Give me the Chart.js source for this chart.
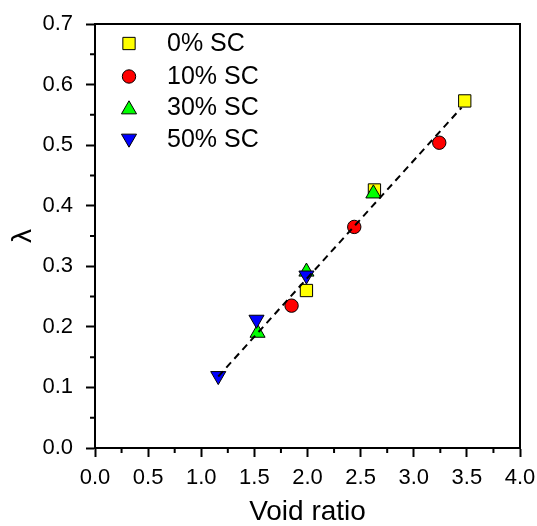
<!DOCTYPE html>
<html>
<head>
<meta charset="utf-8">
<script src="https://cdn.jsdelivr.net/npm/chart.js@4"></script>
<style>
    html, body { margin: 0; padding: 0; background: #fff; }
    #wrap { width: 537px; height: 526px; }
</style>
</head>
<body>
<div id="wrap"><canvas id="lambdaChart" width="537" height="526"></canvas></div>
<script>
// lambda vs void ratio for the four SC contents
const seriesLabels = ['0% SC', '10% SC', '30% SC', '50% SC'];

const sc0Void = [1.99, 2.63, 3.48];
const sc0Lambda = [0.26, 0.426, 0.573];

const sc10Void = [1.85, 2.44, 3.24];
const sc10Lambda = [0.235, 0.365, 0.504];

const sc30Void = [1.53, 1.99, 2.62];
const sc30Lambda = [0.19, 0.291, 0.42];

const sc50Void = [1.16, 1.52, 1.99];
const sc50Lambda = [0.119, 0.212, 0.285];

// linear fit through all points
const fitVoid = [1.16, 3.45];
const fitLambda = [0.118, 0.562];

const xTicks = [0, 0.5, 1, 1.5, 2, 2.5, 3, 3.5, 4];
const yTicks = [0, 0.1, 0.2, 0.3, 0.4, 0.5, 0.6, 0.7];

const FONT = '"Liberation Sans", Arial, Helvetica, sans-serif';

const markers = [
    { color: '#ffff00', style: 'rect', radius: 8.7, rotation: 0 },
    { color: '#ff0000', style: 'circle', radius: 6.7, rotation: 0 },
    { color: '#00ff00', style: 'triangle', radius: 8.7, rotation: 0 },
    { color: '#0000ff', style: 'triangle', radius: 8.7, rotation: 180 }
];

function toPoints(xs, ys) {
    return xs.map((x, i) => ({ x: x, y: ys[i] }));
}

function scatterSet(idx, xs, ys, order) {
    const m = markers[idx];
    return {
        label: seriesLabels[idx],
        data: toPoints(xs, ys),
        showLine: false,
        backgroundColor: m.color,
        borderColor: '#000',
        borderWidth: 1,
        pointStyle: m.style,
        pointRadius: m.radius,
        pointRotation: m.rotation,
        order: order
    };
}

// full frame plus minor ticks
const framePlugin = {
    id: 'frame',
    afterDraw(chart) {
        const { ctx, chartArea: a, scales } = chart;
        ctx.save();
        ctx.strokeStyle = '#000';
        ctx.lineWidth = 2;
        ctx.strokeRect(a.left, a.top, a.right - a.left, a.bottom - a.top);

        ctx.beginPath();
        for (let i = 0; i < xTicks.length - 1; i++) {
            const px = scales.x.getPixelForValue((xTicks[i] + xTicks[i + 1]) / 2);
            ctx.moveTo(px, a.bottom);
            ctx.lineTo(px, a.bottom + 5);
        }
        for (let i = 0; i < yTicks.length - 1; i++) {
            const py = scales.y.getPixelForValue((yTicks[i] + yTicks[i + 1]) / 2);
            ctx.moveTo(a.left, py);
            ctx.lineTo(a.left - 5, py);
        }
        ctx.stroke();
        ctx.restore();
    }
};

// legend box in the upper left of the plot
const legendPlugin = {
    id: 'insideLegend',
    afterDraw(chart) {
        const ctx = chart.ctx;
        const textRows = [44.5, 77, 108.5, 140.5];
        const markRows = [43.5, 76.5, 109.5, 138.5];
        ctx.save();
        seriesLabels.forEach((label, i) => {
            const m = markers[i];
            ctx.fillStyle = m.color;
            ctx.strokeStyle = '#000';
            ctx.lineWidth = 1;
            Chart.helpers.drawPoint(ctx, {
                pointStyle: m.style,
                radius: m.radius,
                rotation: m.rotation,
                borderWidth: 1
            }, 129, markRows[i]);
            ctx.fillStyle = '#000';
            ctx.font = '25px ' + FONT;
            ctx.textBaseline = 'middle';
            ctx.textAlign = 'left';
            ctx.fillText(label, 167, textRows[i]);
        });
        ctx.restore();
    }
};

const ctx = document.getElementById('lambdaChart').getContext('2d');

new Chart(ctx, {
    type: 'scatter',
    data: {
        datasets: [
            {
                label: 'fit',
                data: toPoints(fitVoid, fitLambda),
                showLine: true,
                borderColor: '#000',
                borderWidth: 2,
                borderDash: [7, 5],
                pointRadius: 0,
                fill: false,
                order: 0
            },
            scatterSet(3, sc50Void, sc50Lambda, 1),
            scatterSet(2, sc30Void, sc30Lambda, 2),
            scatterSet(1, sc10Void, sc10Lambda, 3),
            scatterSet(0, sc0Void, sc0Lambda, 4)
        ]
    },
    options: {
        responsive: false,
        animation: false,
        layout: {
            padding: { top: 24, right: 17, left: 0, bottom: 0 }
        },
        plugins: {
            legend: { display: false },
            tooltip: { enabled: false }
        },
        scales: {
            x: {
                type: 'linear',
                min: 0,
                max: 4,
                afterBuildTicks: scale => {
                    scale.ticks = xTicks.map(v => ({ value: v }));
                },
                afterFit: scale => {
                    scale.height = 78;
                    scale.paddingLeft = 0;
                    scale.paddingRight = 0;
                },
                grid: {
                    drawOnChartArea: false,
                    tickLength: 9,
                    tickWidth: 2,
                    tickColor: '#000'
                },
                border: { display: true, color: '#000', width: 2 },
                ticks: {
                    color: '#000',
                    padding: 8,
                    maxRotation: 0,
                    font: { family: FONT, size: 22 },
                    callback: v => Number(v).toFixed(1)
                },
                title: {
                    display: true,
                    text: 'Void ratio',
                    color: '#000',
                    padding: { top: 0, bottom: 0 },
                    font: { family: FONT, size: 28, lineHeight: 1 }
                }
            },
            y: {
                type: 'linear',
                min: 0,
                max: 0.7,
                afterBuildTicks: scale => {
                    scale.ticks = yTicks.map(v => ({ value: v }));
                },
                afterFit: scale => {
                    scale.width = 95;
                    scale.paddingTop = 0;
                    scale.paddingBottom = 0;
                },
                grid: {
                    drawOnChartArea: false,
                    tickLength: 9,
                    tickWidth: 2,
                    tickColor: '#000'
                },
                border: { display: true, color: '#000', width: 2 },
                ticks: {
                    color: '#000',
                    padding: 13,
                    font: { family: FONT, size: 22 },
                    callback: v => Number(v).toFixed(1)
                },
                title: {
                    display: true,
                    text: 'λ',
                    color: '#000',
                    padding: { top: 9, bottom: 0 },
                    font: { family: FONT, size: 28, lineHeight: 1 }
                }
            }
        }
    },
    plugins: [framePlugin, legendPlugin]
});
</script>
</body>
</html>
